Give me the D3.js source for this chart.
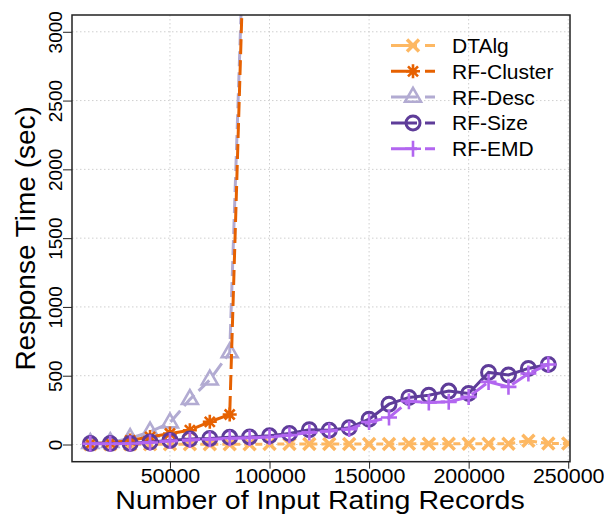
<!DOCTYPE html>
<html>
<head>
<meta charset="utf-8">
<script src="https://cdn.jsdelivr.net/npm/d3@7"></script>
<style>
  body { margin: 0; background: #fff; }
  svg { display: block; font-family: "Liberation Sans", Arial, sans-serif; }
</style>
</head>
<body>
<svg id="chart" width="604" height="515"></svg>
<script>
// ---- data ----
const records = [10000, 20000, 30000, 40000, 50000, 60000, 70000, 80000, 90000, 100000,
  110000, 120000, 130000, 140000, 150000, 160000, 170000, 180000, 190000, 200000,
  210000, 220000, 230000, 240000, 250000];
const dtalg = [1, 1, 1, 1, 2, 2, 2, 2, 2, 3, 3, 3, 3, 4, 4, 4, 5, 5, 5, 6, 6, 6, 28, 7, 7];
const rfCluster = [5, 12, 30, 55, 80, 104, 165, 218, 5000];
const rfDesc = [8, 15, 45, 92, 158, 328, 470, 668, 5000];
const rfSize = [7, 7, 8, 18, 30, 40, 44, 52, 55, 63, 80, 108, 104, 121, 184, 293, 342, 358, 388, 371, 524, 506, 553, 582];
const rfEmd = [6, 6, 7, 15, 25, 33, 38, 45, 48, 55, 68, 88, 98, 112, 164, 196, 315, 305, 310, 346, 455, 419, 516, 582];
const xTicks = [50000, 100000, 150000, 200000, 250000];
const yTicks = [0, 500, 1000, 1500, 2000, 2500, 3000];
const seriesNames = ["DTAlg", "RF-Cluster", "RF-Desc", "RF-Size", "RF-EMD"];
const xTitle = "Number of Input Rating Records";
const yTitle = "Response Time (sec)";

// ---- layout ----
const L = 72, R = 570, T = 15, B = 461.7;
const svg = d3.select("#chart");
const x = d3.scaleLinear().domain([800, 250900]).range([L, R]);
const y = d3.scaleLinear().domain([-125, 3122]).range([B, T]);

const styles = {
  "DTAlg":      { color: "#FDB863", dash: "7,4",  shape: "x" },
  "RF-Cluster": { color: "#E66101", dash: "15,6", shape: "ast" },
  "RF-Desc":    { color: "#B2ABD2", dash: "15,6", shape: "tri" },
  "RF-Size":    { color: "#5E3C99", dash: null,   shape: "circle" },
  "RF-EMD":     { color: "#B266F0", dash: "18,5", shape: "plus" }
};
const dataBy = {
  "DTAlg": dtalg, "RF-Cluster": rfCluster, "RF-Desc": rfDesc,
  "RF-Size": rfSize, "RF-EMD": rfEmd
};

svg.append("defs").append("clipPath").attr("id", "clip")
  .append("rect").attr("x", L).attr("y", T).attr("width", R - L).attr("height", B - T);

// grid
const grid = svg.append("g").attr("stroke", "#cfcfcf").attr("stroke-width", 1)
  .attr("stroke-dasharray", "1.5,2.5");
grid.selectAll("line.h").data(yTicks).join("line")
  .attr("x1", L).attr("x2", R).attr("y1", d => y(d)).attr("y2", d => y(d));
grid.selectAll("line.v").data(xTicks).join("line")
  .attr("y1", T).attr("y2", B).attr("x1", d => x(d)).attr("x2", d => x(d));

function drawMarker(g, shape, color, cx, cy) {
  const m = g.append("g").attr("transform", `translate(${cx},${cy})`)
    .attr("fill", "none").attr("stroke", color);
  if (shape === "x") {
    const s = 6;
    m.attr("stroke-width", 3.5);
    m.append("path").attr("d", `M${-s},${-s}L${s},${s}M${-s},${s}L${s},${-s}`);
  } else if (shape === "ast") {
    const s = 7, d = 5;
    m.attr("stroke-width", 2.6);
    m.append("path").attr("d", `M${-s},0L${s},0M0,${-s}L0,${s}M${-d},${-d}L${d},${d}M${-d},${d}L${d},${-d}`);
  } else if (shape === "tri") {
    m.attr("stroke-width", 2.6);
    m.append("path").attr("d", d3.symbol(d3.symbolTriangle, 110)());
  } else if (shape === "circle") {
    m.attr("stroke-width", 3);
    m.append("circle").attr("r", 7);
  } else if (shape === "plus") {
    const s = 8;
    m.attr("stroke-width", 2.6);
    m.append("path").attr("d", `M${-s},0L${s},0M0,${-s}L0,${s}`);
  }
}

const plot = svg.append("g").attr("clip-path", "url(#clip)");
const drawOrder = ["RF-Desc", "DTAlg", "RF-Cluster", "RF-Size", "RF-EMD"];
drawOrder.forEach(name => {
  const st = styles[name];
  const vals = dataBy[name];
  const pts = vals.map((v, i) => [records[i], v]);
  const g = plot.append("g");
  g.append("path").datum(pts)
    .attr("fill", "none").attr("stroke", st.color).attr("stroke-width", 3)
    .attr("stroke-dasharray", st.dash)
    .attr("d", d3.line().x(d => x(d[0])).y(d => y(d[1])));
  pts.forEach(p => drawMarker(g, st.shape, st.color, x(p[0]), y(p[1])));
});

// box
svg.append("rect").attr("x", L).attr("y", T).attr("width", R - L).attr("height", B - T)
  .attr("fill", "none").attr("stroke", "#222").attr("stroke-width", 1.5);

// x axis
const xAxis = svg.append("g").attr("transform", `translate(0,${B})`)
  .call(d3.axisBottom(x).tickValues(xTicks).tickSize(7).tickFormat(d3.format("d")));
xAxis.select(".domain").remove();
xAxis.selectAll(".tick line").attr("stroke", "#222").attr("stroke-width", 1);
xAxis.selectAll(".tick text").attr("font-size", 19.5).attr("fill", "#000")
  .attr("font-family", "Liberation Sans, Arial, sans-serif")
  .attr("y", 0).attr("dy", 0)
  .attr("transform", "translate(0,21) scale(1.1,1)");

// y axis
const yAxis = svg.append("g").attr("transform", `translate(${L},0)`)
  .call(d3.axisLeft(y).tickValues(yTicks).tickSize(9).tickPadding(0).tickFormat(d3.format("d")));
yAxis.select(".domain").remove();
yAxis.selectAll(".tick line").attr("stroke", "#222").attr("stroke-width", 1);
yAxis.selectAll(".tick text").attr("font-size", 19).attr("fill", "#000")
  .attr("font-family", "Liberation Sans, Arial, sans-serif")
  .attr("text-anchor", "middle").attr("dy", 0).attr("x", 0)
  .attr("transform", "translate(-10.5,0) rotate(-90)");

// titles
svg.append("text").attr("transform", "translate(320,509) scale(1.12,1)").attr("text-anchor", "middle")
  .attr("font-size", 25.5).attr("fill", "#000").text(xTitle);
svg.append("text").attr("transform", `translate(34.5,${(T + B) / 2}) rotate(-90)`)
  .attr("text-anchor", "middle").attr("font-size", 28).attr("fill", "#000").text(yTitle);

// legend
const lg = svg.append("g");
seriesNames.forEach((name, i) => {
  const st = styles[name];
  const cy = 45.5 + i * 25.8;
  lg.append("line").attr("x1", 391).attr("x2", 435).attr("y1", cy).attr("y2", cy)
    .attr("stroke", st.color).attr("stroke-width", 3).attr("stroke-dasharray", "26,8,10,100");
  drawMarker(lg, st.shape, st.color, 413, cy);
  lg.append("text").attr("x", 452).attr("y", cy).attr("dy", "0.36em")
    .attr("font-size", 21).attr("fill", "#000").text(name);
});
</script>
</body>
</html>
